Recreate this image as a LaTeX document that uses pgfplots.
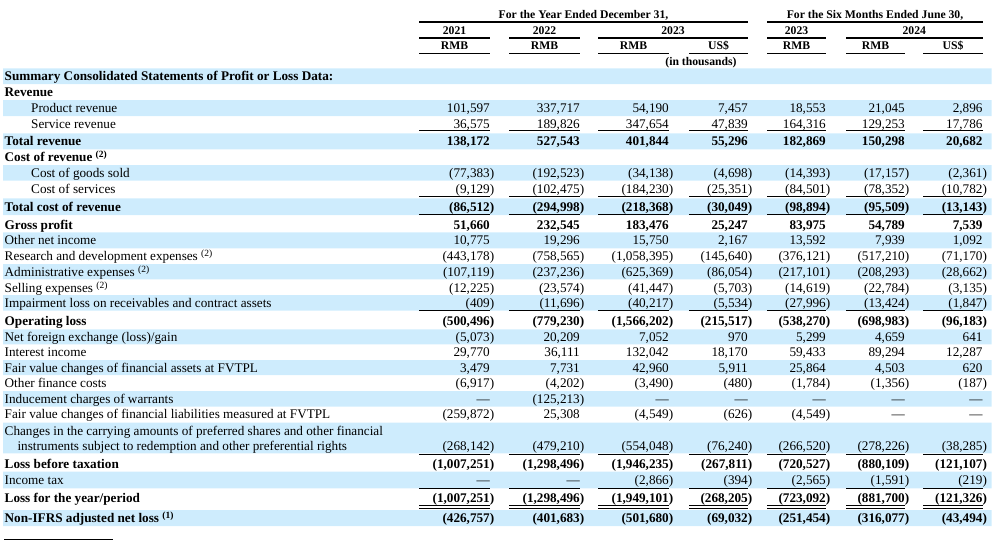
\documentclass[border=0pt]{standalone}
\usepackage{pgfplots}
\pgfplotsset{compat=1.18}
\usepackage{fontspec}
\setmainfont{Liberation Serif}
\definecolor{rowblue}{RGB}{206,236,253}
\newcommand\bodyf{\fontsize{13.2}{15}\selectfont}
\newcommand\headf{\fontsize{11.7}{13}\selectfont\bfseries}
\newcommand\p[1]{(#1\rlap{)}}
\newcommand\supb{\ \raisebox{4pt}{\fontsize{9.5}{10}\selectfont(2)}}
\newcommand\supa{\ \raisebox{4pt}{\fontsize{9.5}{10}\selectfont(1)}}
\newcommand\rowshade[2]{\addplot[fill=rowblue, draw=none, forget plot] coordinates {(3,#1)(991.7,#1)(991.7,#2)(3,#2)(3,#1)};}
\newcommand\hl[4]{\addplot[black, line width=#4, forget plot] coordinates {(#2,#1)(#3,#1)};}
\newcommand\ulrow[2]{\hl{#1}{419}{490}{#2}\hl{#1}{509}{580}{#2}\hl{#1}{598}{669}{#2}\hl{#1}{689}{748}{#2}\hl{#1}{767}{826}{#2}\hl{#1}{846}{905}{#2}\hl{#1}{923}{982.7}{#2}}
\pgfplotsset{
  numcol/.style={draw=none, mark=none, forget plot, nodes near coords, point meta=explicit symbolic,
    every node near coord/.style={anchor=east, inner sep=0pt, text height=9pt, text depth=0pt, font=\bodyf, text=black}},
  labcol/.style={draw=none, mark=none, forget plot, nodes near coords, point meta=explicit symbolic,
    every node near coord/.style={anchor=west, inner sep=0pt, text height=9pt, text depth=0pt, font=\bodyf, text=black}},
  headcol/.style={draw=none, mark=none, forget plot, nodes near coords, point meta=explicit symbolic,
    every node near coord/.style={anchor=center, inner sep=0pt, text height=8pt, text depth=0pt, font=\headf, text=black}},
}
\begin{document}
\begin{tikzpicture}
\begin{axis}[width=1000pt, height=544pt, scale only axis, xmin=0, xmax=1000, ymin=0, ymax=544,
  y dir=reverse, hide axis, clip=false]
\addplot[draw=none, forget plot] coordinates {(0,0)(1000,544)};
% shaded rows
\rowshade{68.3}{84}
\rowshade{100}{116}
\rowshade{133.3}{149.3}
\rowshade{165}{180.7}
\rowshade{198.3}{215}
\rowshade{232.3}{248.3}
\rowshade{264}{279.3}
\rowshade{295}{310.7}
\rowshade{329.3}{344.3}
\rowshade{360}{375}
\rowshade{391}{406.7}
\rowshade{422.7}{453.3}
\rowshade{471.7}{488.3}
\rowshade{510}{526}
% header rules
\hl{22}{419}{748}{1.6pt}
\hl{22}{767}{982.7}{1.6pt}
\hl{37.7}{419}{490}{1.6pt}\hl{37.7}{509}{580}{1.6pt}\hl{37.7}{598}{748}{1.6pt}\hl{37.7}{767}{826}{1.6pt}\hl{37.7}{846}{982.7}{1.6pt}
\ulrow{53.3}{1.6pt}
% body rules
\ulrow{130.7}{0.9pt}
\ulrow{196.5}{0.9pt}
\ulrow{214.3}{0.9pt}
\ulrow{310.5}{0.9pt}
\ulrow{454.3}{0.9pt}
\ulrow{488.3}{0.9pt}
\ulrow{505.8}{0.9pt}
\ulrow{508.6}{0.9pt}
\hl{539.3}{4.3}{112.7}{0.8pt}
% header text
\addplot[headcol] coordinates {
(583.5,14.7)[For the Year Ended December 31,] (875,14.7)[For the Six Months Ended June 30,]
(454.5,30)[2021] (544.5,30)[2022] (673,30)[2023] (796.5,30)[2023] (914.3,30)[2024]
(454.5,45.7)[RMB] (544.5,45.7)[RMB] (633.5,45.7)[RMB] (718.5,45.7)[US\$] (796.5,45.7)[RMB] (875.5,45.7)[RMB] (953,45.7)[US\$]
(701,61.7)[(in thousands)]
};
% row labels
\addplot[labcol] coordinates {
(4.5,76.2)[\textbf{Summary Consolidated Statements of Profit or Loss Data:}]
(4.5,92.3)[\textbf{Revenue}]
(31,108)[Product revenue] (31,123.7)[Service revenue]
(4.5,141.3)[\textbf{Total revenue}]
(4.5,157.3)[\textbf{Cost of revenue\supb}]
(31,172.8)[Cost of goods sold] (31,189.3)[Cost of services]
(4.5,206.7)[\textbf{Total cost of revenue}]
(4.5,224.5)[\textbf{Gross profit}]
(4.5,240.3)[Other net income]
(4.5,255.7)[Research and development expenses\supb]
(4.5,271.7)[Administrative expenses\supb]
(4.5,287.7)[Selling expenses\supb]
(4.5,302.8)[Impairment loss on receivables and contract assets]
(4.5,320.7)[\textbf{Operating loss}]
(4.5,336.8)[Net foreign exchange (loss)/gain]
(4.5,352.3)[Interest income]
(4.5,367.5)[Fair value changes of financial assets at FVTPL]
(4.5,383.3)[Other finance costs]
(4.5,398.8)[Inducement charges of warrants]
(4.5,414)[Fair value changes of financial liabilities measured at FVTPL]
(4.5,430.7)[Changes in the carrying amounts of preferred shares and other financial]
(17.3,446)[instruments subject to redemption and other preferential rights]
(4.5,464)[\textbf{Loss before taxation}]
(4.5,480)[Income tax]
(4.5,497.7)[\textbf{Loss for the year/period}]
(4.5,518)[\textbf{Non-IFRS adjusted net loss\supa}]
};
% 2021 RMB
\addplot[numcol] coordinates {
(490,108)[101,597] (490,123.7)[36,575] (490,141.3)[\textbf{138,172}]
(490,172.8)[\p{77,383}] (490,189.3)[\p{9,129}] (490,206.7)[\textbf{\p{86,512}}]
(490,224.5)[\textbf{51,660}] (490,240.3)[10,775] (490,255.7)[\p{443,178}] (490,271.7)[\p{107,119}]
(490,287.7)[\p{12,225}] (490,302.8)[\p{409}] (490,320.7)[\textbf{\p{500,496}}] (490,336.8)[\p{5,073}]
(490,352.3)[29,770] (490,367.5)[3,479] (490,383.3)[\p{6,917}] (490,398.8)[—] (490,414)[\p{259,872}]
(490,446)[\p{268,142}] (490,464)[\textbf{\p{1,007,251}}] (490,480)[—] (490,497.7)[\textbf{\p{1,007,251}}]
(490,518)[\textbf{\p{426,757}}]
};
% 2022 RMB
\addplot[numcol] coordinates {
(580,108)[337,717] (580,123.7)[189,826] (580,141.3)[\textbf{527,543}]
(580,172.8)[\p{192,523}] (580,189.3)[\p{102,475}] (580,206.7)[\textbf{\p{294,998}}]
(580,224.5)[\textbf{232,545}] (580,240.3)[19,296] (580,255.7)[\p{758,565}] (580,271.7)[\p{237,236}]
(580,287.7)[\p{23,574}] (580,302.8)[\p{11,696}] (580,320.7)[\textbf{\p{779,230}}] (580,336.8)[20,209]
(580,352.3)[36,111] (580,367.5)[7,731] (580,383.3)[\p{4,202}] (580,398.8)[\p{125,213}] (580,414)[25,308]
(580,446)[\p{479,210}] (580,464)[\textbf{\p{1,298,496}}] (580,480)[—] (580,497.7)[\textbf{\p{1,298,496}}]
(580,518)[\textbf{\p{401,683}}]
};
% 2023 RMB
\addplot[numcol] coordinates {
(669,108)[54,190] (669,123.7)[347,654] (669,141.3)[\textbf{401,844}]
(669,172.8)[\p{34,138}] (669,189.3)[\p{184,230}] (669,206.7)[\textbf{\p{218,368}}]
(669,224.5)[\textbf{183,476}] (669,240.3)[15,750] (669,255.7)[\p{1,058,395}] (669,271.7)[\p{625,369}]
(669,287.7)[\p{41,447}] (669,302.8)[\p{40,217}] (669,320.7)[\textbf{\p{1,566,202}}] (669,336.8)[7,052]
(669,352.3)[132,042] (669,367.5)[42,960] (669,383.3)[\p{3,490}] (669,398.8)[—] (669,414)[\p{4,549}]
(669,446)[\p{554,048}] (669,464)[\textbf{\p{1,946,235}}] (669,480)[\p{2,866}] (669,497.7)[\textbf{\p{1,949,101}}]
(669,518)[\textbf{\p{501,680}}]
};
% 2023 US$
\addplot[numcol] coordinates {
(748,108)[7,457] (748,123.7)[47,839] (748,141.3)[\textbf{55,296}]
(748,172.8)[\p{4,698}] (748,189.3)[\p{25,351}] (748,206.7)[\textbf{\p{30,049}}]
(748,224.5)[\textbf{25,247}] (748,240.3)[2,167] (748,255.7)[\p{145,640}] (748,271.7)[\p{86,054}]
(748,287.7)[\p{5,703}] (748,302.8)[\p{5,534}] (748,320.7)[\textbf{\p{215,517}}] (748,336.8)[970]
(748,352.3)[18,170] (748,367.5)[5,911] (748,383.3)[\p{480}] (748,398.8)[—] (748,414)[\p{626}]
(748,446)[\p{76,240}] (748,464)[\textbf{\p{267,811}}] (748,480)[\p{394}] (748,497.7)[\textbf{\p{268,205}}]
(748,518)[\textbf{\p{69,032}}]
};
% H1 2023 RMB
\addplot[numcol] coordinates {
(826,108)[18,553] (826,123.7)[164,316] (826,141.3)[\textbf{182,869}]
(826,172.8)[\p{14,393}] (826,189.3)[\p{84,501}] (826,206.7)[\textbf{\p{98,894}}]
(826,224.5)[\textbf{83,975}] (826,240.3)[13,592] (826,255.7)[\p{376,121}] (826,271.7)[\p{217,101}]
(826,287.7)[\p{14,619}] (826,302.8)[\p{27,996}] (826,320.7)[\textbf{\p{538,270}}] (826,336.8)[5,299]
(826,352.3)[59,433] (826,367.5)[25,864] (826,383.3)[\p{1,784}] (826,398.8)[—] (826,414)[\p{4,549}]
(826,446)[\p{266,520}] (826,464)[\textbf{\p{720,527}}] (826,480)[\p{2,565}] (826,497.7)[\textbf{\p{723,092}}]
(826,518)[\textbf{\p{251,454}}]
};
% H1 2024 RMB
\addplot[numcol] coordinates {
(905,108)[21,045] (905,123.7)[129,253] (905,141.3)[\textbf{150,298}]
(905,172.8)[\p{17,157}] (905,189.3)[\p{78,352}] (905,206.7)[\textbf{\p{95,509}}]
(905,224.5)[\textbf{54,789}] (905,240.3)[7,939] (905,255.7)[\p{517,210}] (905,271.7)[\p{208,293}]
(905,287.7)[\p{22,784}] (905,302.8)[\p{13,424}] (905,320.7)[\textbf{\p{698,983}}] (905,336.8)[4,659]
(905,352.3)[89,294] (905,367.5)[4,503] (905,383.3)[\p{1,356}] (905,398.8)[—] (905,414)[—]
(905,446)[\p{278,226}] (905,464)[\textbf{\p{880,109}}] (905,480)[\p{1,591}] (905,497.7)[\textbf{\p{881,700}}]
(905,518)[\textbf{\p{316,077}}]
};
% H1 2024 US$
\addplot[numcol] coordinates {
(982.7,108)[2,896] (982.7,123.7)[17,786] (982.7,141.3)[\textbf{20,682}]
(982.7,172.8)[\p{2,361}] (982.7,189.3)[\p{10,782}] (982.7,206.7)[\textbf{\p{13,143}}]
(982.7,224.5)[\textbf{7,539}] (982.7,240.3)[1,092] (982.7,255.7)[\p{71,170}] (982.7,271.7)[\p{28,662}]
(982.7,287.7)[\p{3,135}] (982.7,302.8)[\p{1,847}] (982.7,320.7)[\textbf{\p{96,183}}] (982.7,336.8)[641]
(982.7,352.3)[12,287] (982.7,367.5)[620] (982.7,383.3)[\p{187}] (982.7,398.8)[—] (982.7,414)[—]
(982.7,446)[\p{38,285}] (982.7,464)[\textbf{\p{121,107}}] (982.7,480)[\p{219}] (982.7,497.7)[\textbf{\p{121,326}}]
(982.7,518)[\textbf{\p{43,494}}]
};
\end{axis}
\end{tikzpicture}
\end{document}
